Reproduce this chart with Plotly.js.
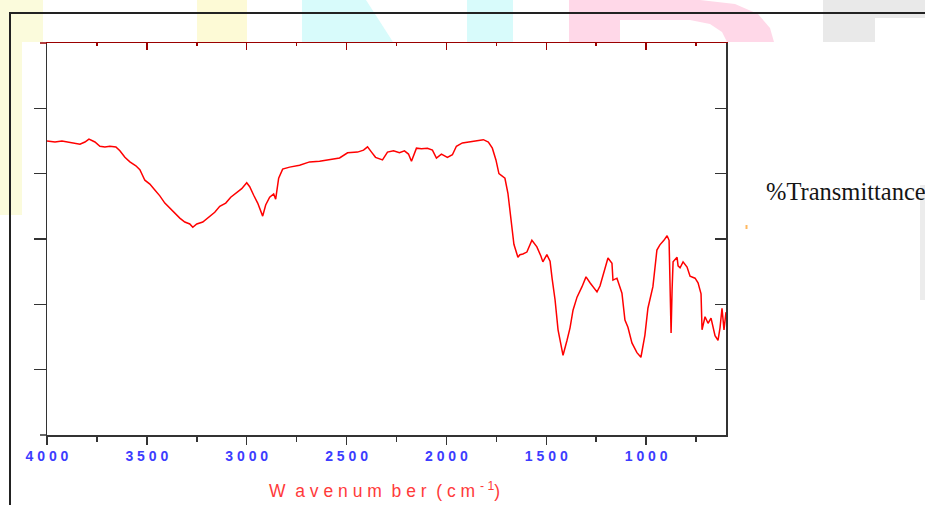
<!DOCTYPE html>
<html>
<head>
<meta charset="utf-8">
<script src="https://cdn.plot.ly/plotly-3.0.1.min.js"></script>
<style>html,body{margin:0;padding:0;background:#fff;}#chart{width:925px;height:505px;}</style>
</head>
<body>
<div id="chart"></div>
<script>
// Wavenumber (cm-1) and transmittance values
const wavenumber = [4000,3960,3925,3895,3860,3835,3810,3790,3760,3735,3710,3685,3655,3635,3610,3585,3555,3535,3510,3485,3460,3435,3410,3385,3360,3335,3310,3285,3270,3250,3220,3185,3160,3135,3105,3080,3055,3025,3000,2985,2965,2945,2920,2905,2885,2865,2855,2840,2820,2785,2735,2685,2635,2585,2535,2495,2445,2415,2395,2375,2355,2320,2295,2265,2235,2210,2190,2175,2150,2125,2095,2070,2050,2025,1995,1970,1950,1920,1885,1845,1815,1790,1770,1752,1737,1707,1692,1682,1672,1662,1642,1632,1617,1597,1572,1547,1527,1517,1497,1481,1471,1456,1441,1416,1396,1381,1366,1346,1321,1301,1281,1246,1231,1211,1191,1171,1166,1146,1121,1106,1091,1071,1046,1026,1006,991,966,946,931,911,895,885,880,875,870,865,845,840,830,815,795,780,755,740,725,720,705,690,675,655,640,630,620,610,600];
const transmittance = [45.0,44.85,45.0,44.85,44.7,44.5,44.85,45.3,44.85,44.2,44.1,44.2,44.1,43.5,42.5,41.8,41.2,40.6,39.0,38.4,37.5,36.6,35.5,34.7,34.0,33.2,32.6,32.3,31.8,32.3,32.6,33.5,34.1,35.0,35.5,36.4,37.0,37.7,38.6,38.0,36.7,35.5,33.5,35.2,36.4,36.9,36.1,39.3,40.7,41.0,41.3,41.8,41.9,42.2,42.4,43.2,43.3,43.6,44.1,43.3,42.5,42.1,43.3,43.5,43.2,43.5,43.0,41.9,43.9,43.8,43.9,43.6,42.4,43.0,42.5,42.9,44.2,44.7,44.85,45.0,45.2,44.85,43.9,42.1,40.0,39.3,37.0,34.4,31.7,29.2,27.2,27.6,27.7,28.0,29.8,28.8,27.4,26.5,27.6,26.6,24.0,20.7,16.1,12.2,14.5,16.4,19.1,21.1,22.7,24.2,23.3,21.9,22.8,24.8,27.1,26.3,23.7,24.0,21.7,17.6,16.5,14.1,12.6,11.9,15.3,19.4,22.7,28.3,29.1,29.8,30.5,29.8,22.2,15.6,22.2,26.5,27.2,25.9,25.6,26.5,25.7,24.3,24.0,23.3,21.6,16.1,18.1,17.1,17.9,15.2,14.5,16.4,19.4,16.1,18.8];
const xTickVals = [4000,3500,3000,2500,2000,1500,1000];
const xTickText = ['4 0 0 0','3 5 0 0','3 0 0 0','2 5 0 0','2 0 0 0','1 5 0 0','1 0 0 0'];
const yTickVals = [10,20,30,40,50];
const xTitle = 'W\u00A0\u00A0a v e n u m\u00A0\u00A0b e r\u00A0\u00A0( c m\u00A0<sup>- 1</sup>)';
const sideLabel = '%Transmittance';

// layout geometry helpers (pixel -> paper)
const L = 47, R = 726, T = 43, B = 435;
const px = x => (x - L) / (R - L);
const py = y => (B - y) / (B - T);

function rect(x0, y0, x1, y1, color, layer) {
  return {type:'rect', xref:'paper', yref:'paper', x0:px(x0), x1:px(x1), y0:py(y0), y1:py(y1),
          fillcolor:color, line:{width:0}, layer: layer || 'below'};
}
function path(pts, color) {
  const d = 'M ' + pts.map(p => px(p[0]) + ',' + py(p[1])).join(' L ') + ' Z';
  return {type:'path', xref:'paper', yref:'paper', path:d, fillcolor:color, line:{width:0}, layer:'below'};
}
function hline(x0, x1, y, color, w) {
  return {type:'line', xref:'paper', yref:'paper', x0:px(x0), x1:px(x1), y0:py(y), y1:py(y), line:{color:color, width:w}, layer:'above'};
}
function vline(x, y0, y1, color, w) {
  return {type:'line', xref:'paper', yref:'paper', x0:px(x), x1:px(x), y0:py(y0), y1:py(y1), line:{color:color, width:w}, layer:'above'};
}

const shapes = [
  // faint watermark pieces visible around the chart image
  rect(0, 0, 43, 42, '#fbfbdc'),
  rect(0, 42, 22, 215, '#fbfbdc'),
  rect(197, 0, 247, 42, '#fdfad6'),
  path([[302,0],[366,0],[393,42],[302,42]], '#d8fbfb'),
  rect(467, 0, 513, 42, '#d8fbfb'),
  rect(569, 0, 620, 42, '#ffd8e8'),
  path([[620,0],[700,0],[735,4],[758,14],[770,28],[774,42],[620,42]], '#ffd8e8'),
  path([[620,20],[690,20],[710,24],[722,32],[727,42],[620,42]], '#ffffff'),
  rect(823, 0, 925, 18, '#e9e9e9'),
  rect(823, 18, 875, 42, '#e9e9e9'),
  rect(920, 185, 925, 300, '#ececec'),
  rect(745.5, 225, 747.5, 229, '#ffb860', 'above'),
  // outer frame
  hline(9, 925, 13, '#222', 2),
  vline(10, 13, 505, '#222', 2),
  // axis line extensions to the left
  hline(40, 47, 43, '#9a0000', 1.5),
  hline(40, 47, 435, '#333', 1.5)
];

const data = [{
  x: wavenumber, y: transmittance, type:'scatter', mode:'lines',
  line:{color:'#ff0000', width:1.5}, hoverinfo:'skip', showlegend:false
}, {
  x: wavenumber, y: transmittance, xaxis:'x2', yaxis:'y2', type:'scatter', mode:'lines',
  line:{color:'rgba(0,0,0,0)', width:0}, hoverinfo:'skip', showlegend:false
}];

const layout = {
  width:925, height:505,
  margin:{l:L, r:925-R, t:T, b:505-B},
  paper_bgcolor:'#fff', plot_bgcolor:'#fff',
  showlegend:false,
  xaxis:{
    range:[4000,600], showgrid:false, zeroline:false,
    showline:true, linecolor:'#333', linewidth:1.5,
    ticks:'outside', ticklen:8, tickwidth:1.5, tickcolor:'#333',
    tickvals:xTickVals, ticktext:xTickText,
    tickfont:{family:'Liberation Sans, Arial, sans-serif', size:14, color:'#3c3cff', weight:'bold'},
    minor:{dtick:250, tick0:0, ticks:'outside', ticklen:5, tickwidth:1.5, tickcolor:'#333'},
    fixedrange:true
  },
  xaxis2:{
    range:[4000,600], overlaying:'x', side:'top', anchor:'y', showgrid:false, zeroline:false,
    showline:true, linecolor:'#9a0000', linewidth:1.5,
    ticks:'inside', ticklen:7, tickwidth:1.5, tickcolor:'#9a0000',
    tickvals:xTickVals, showticklabels:false,
    minor:{dtick:250, tick0:0, ticks:'inside', ticklen:3, tickwidth:1.5, tickcolor:'#9a0000'}
  },
  yaxis:{
    range:[0,60], showgrid:false, zeroline:false,
    showline:true, linecolor:'#333', linewidth:1.5,
    ticks:'outside', ticklen:12, tickwidth:1.5, tickcolor:'#333',
    tickvals:yTickVals, showticklabels:false
  },
  yaxis2:{
    range:[0,60], overlaying:'y', side:'right', anchor:'x', showgrid:false, zeroline:false,
    showline:true, linecolor:'#333', linewidth:1.5,
    ticks:'inside', ticklen:11, tickwidth:1.5, tickcolor:'#333',
    tickvals:yTickVals, showticklabels:false
  },
  shapes: shapes,
  annotations:[
    {text:xTitle, xref:'paper', yref:'paper', x:px(384), y:py(490), xanchor:'center', yanchor:'middle',
     showarrow:false, font:{family:'Liberation Sans, Arial, sans-serif', size:17.5, color:'#ff3a3a'}},
    {text:sideLabel, xref:'paper', yref:'paper', x:px(764), y:py(192), xanchor:'left', yanchor:'middle',
     showarrow:false, font:{family:'Liberation Serif, Times New Roman, serif', size:24.5, color:'#151515'}}
  ]
};

Plotly.newPlot('chart', data, layout, {staticPlot:true, displayModeBar:false});
</script>
</body>
</html>
